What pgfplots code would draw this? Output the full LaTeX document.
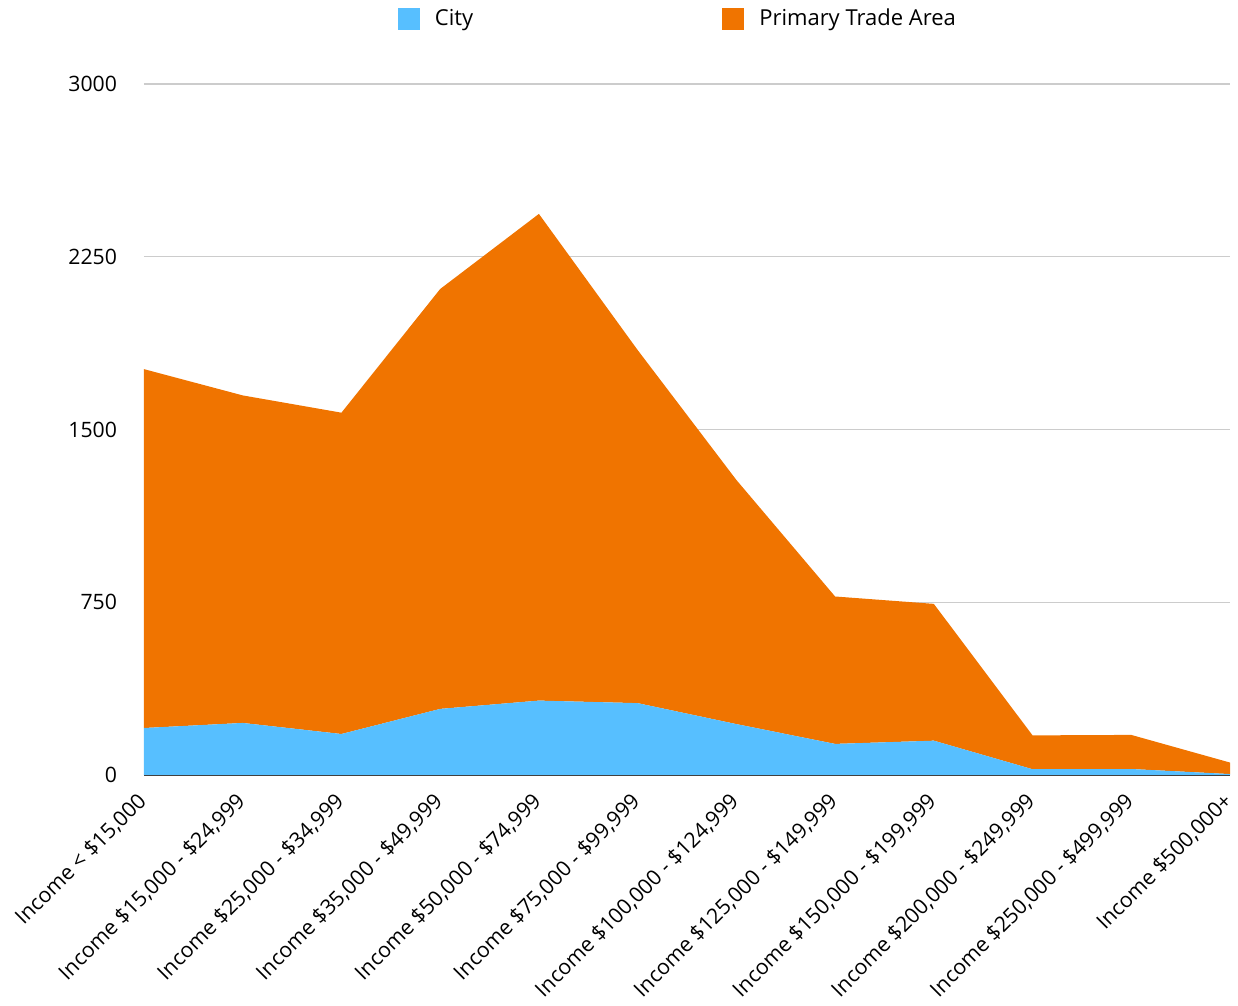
\documentclass[border=0pt]{standalone}
\usepackage{pgfplots}
\usepackage{pgfplotstable}
\pgfplotsset{compat=1.18}
\usepackage{fontspec}
\setmainfont{Open Sans}
\definecolor{cityblue}{RGB}{87,191,255}
\definecolor{ptaorange}{RGB}{240,116,0}
\definecolor{gridgray}{RGB}{204,204,204}
\pgfplotstableread{
x city pta
0 204 1558
1 226 1422
2 178 1395
3 287 1823
4 323 2113
5 312 1533
6 221 1060
7 135 640
8 149 594
9 25 147
10 26 148
11 4 50
}\datatable
\begin{document}
\begin{tikzpicture}
\begin{axis}[
  name=ax,
  scale only axis, width=543pt, height=345.5pt,
  xmin=0, xmax=11, ymin=0, ymax=3000,
  ytick={0,750,1500,2250,3000},
  xtick={0,...,11},
  xticklabels={{Income < \$15,000},{Income \$15,000 - \$24,999},{Income \$25,000 - \$34,999},{Income \$35,000 - \$49,999},{Income \$50,000 - \$74,999},{Income \$75,000 - \$99,999},{Income \$100,000 - \$124,999},{Income \$125,000 - \$149,999},{Income \$150,000 - \$199,999},{Income \$200,000 - \$249,999},{Income \$250,000 - \$499,999},{Income \$500,000+}},
  /pgf/number format/assume math mode=true,
  /pgf/number format/1000 sep={},
  tick label style={font=\fontsize{10.6}{12}\selectfont, black},
  xticklabel style={xshift=-4pt, yshift=-5pt, rotate=45, anchor=north east, inner sep=2pt},
  yticklabel style={anchor=east, xshift=-10pt},
  major tick length=0pt,
  axis x line*=bottom, axis y line*=left,
  y axis line style={draw=none},
  x axis line style={draw=black!75, line width=0.8pt},
  ymajorgrids, grid style={gridgray, line width=0.6pt},
  stack plots=y,
  legend style={at={(0,1)}, anchor=west, xshift=127pt, yshift=32.5pt, draw=none, fill=none,
    inner sep=0pt, outer sep=0pt,
    font=\fontsize{11}{13}\selectfont, legend columns=2,
    /tikz/every odd column/.append style={column sep=5.5pt},
    /tikz/every even column/.append style={column sep=122.5pt}},
  legend image code/.code={\fill[#1] (0pt,-5.5pt) rectangle (11pt,5.5pt);},
]
\addplot[fill=cityblue, draw=none] table[x=x,y=city]{\datatable} \closedcycle;
\addlegendentry{City}
\addplot[fill=ptaorange, draw=none] table[x=x,y=pta]{\datatable} \closedcycle;
\addlegendentry{Primary Trade Area}
\end{axis}
\pgfresetboundingbox
\useasboundingbox ([xshift=-72pt,yshift=-115.5pt]ax.south west) rectangle ([xshift=4pt,yshift=42pt]ax.north east);
\end{tikzpicture}
\end{document}
